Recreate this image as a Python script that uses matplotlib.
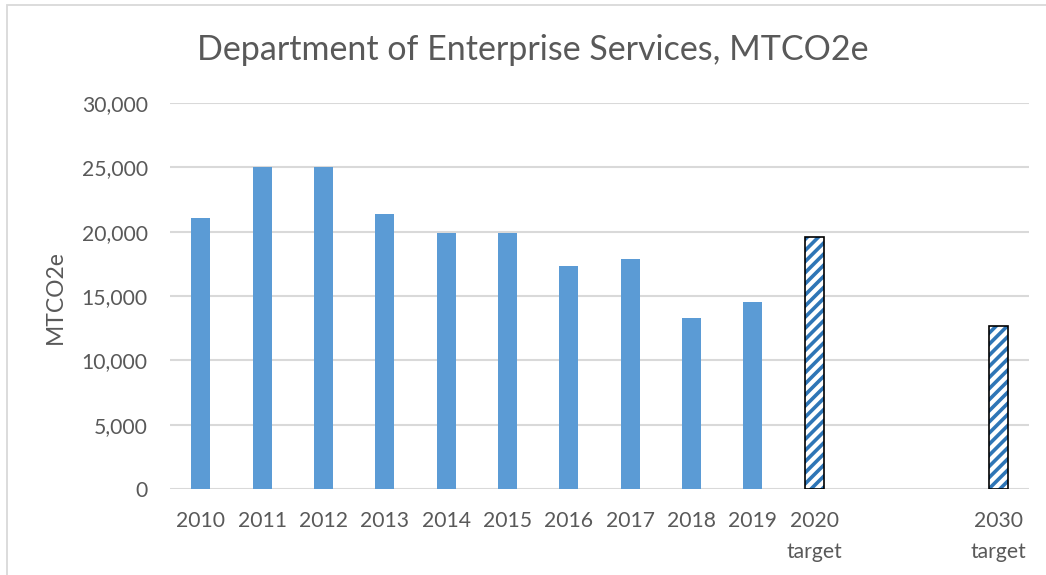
import matplotlib
matplotlib.use("Agg")
import matplotlib.pyplot as plt
from matplotlib.patches import Rectangle
import numpy as np

# chart data
categories = ['2010', '2011', '2012', '2013', '2014', '2015', '2016', '2017',
              '2018', '2019', '2020\ntarget', '', '', '2030\ntarget']
values = [21100, 25000, 25000, 21400, 19900, 19900, 17350, 17850,
          13300, 14500, 19550, None, None, 12650]
is_target = [False] * 10 + [True, False, False, True]

text_color = '#595959'
bar_color = '#5b9bd5'
hatch_color = '#2e75b6'
grid_color = '#d9d9d9'

plt.rcParams['font.family'] = ['Lato', 'DejaVu Sans']
plt.rcParams['hatch.linewidth'] = 2.6

fig = plt.figure(figsize=(10.46, 5.75), dpi=100)
ax = fig.add_axes([170 / 1046, 1 - 489 / 575, (1029 - 170) / 1046, (489 - 103) / 575])

x = np.arange(len(categories))
width = 0.31
for xi, v, tgt in zip(x, values, is_target):
    if v is None:
        continue
    if tgt:
        # hatched target bar with a black outline on top
        ax.bar(xi, v, width, color='white', edgecolor=hatch_color, hatch='///', linewidth=0, zorder=3)
        ax.bar(xi, v, width, fill=False, edgecolor='black', linewidth=1.2, zorder=4)
    else:
        ax.bar(xi, v, width, color=bar_color, linewidth=0, zorder=3)

ax.set_xlim(-0.5, len(categories) - 0.5)
ax.set_ylim(0, 30000)
ax.set_yticks(np.arange(0, 30001, 5000))
ax.set_yticklabels(['{:,}'.format(t) for t in range(0, 30001, 5000)])
ax.set_xticks(x)
ax.set_xticklabels(categories, linespacing=1.7)
ax.yaxis.grid(True, color=grid_color, linewidth=1.5, zorder=0)
ax.set_axisbelow(True)
for s in ax.spines.values():
    s.set_visible(False)
ax.tick_params(axis='both', length=0, labelsize=15.2, colors=text_color)
ax.tick_params(axis='y', pad=16)
ax.tick_params(axis='x', pad=16)

# y label placed directly in figure pixels
fig.text(55 / 1046, 1 - 297 / 575, 'MTCO2e', rotation=90, ha='center', va='center',
         fontsize=16.5, color=text_color)
fig.text(533 / 1046, 1 - 50 / 575, 'Department of Enterprise Services, MTCO2e',
         ha='center', va='center', fontsize=24.5, color=text_color)

# chart area border (cut off at right and bottom)
fig.patches.append(Rectangle((6.5 / 1046, -0.1), 1.2, 1 - 4.5 / 575 + 0.1, transform=fig.transFigure,
                             fill=False, edgecolor=grid_color, linewidth=1.3))

fig.savefig('out.png', dpi=100)
